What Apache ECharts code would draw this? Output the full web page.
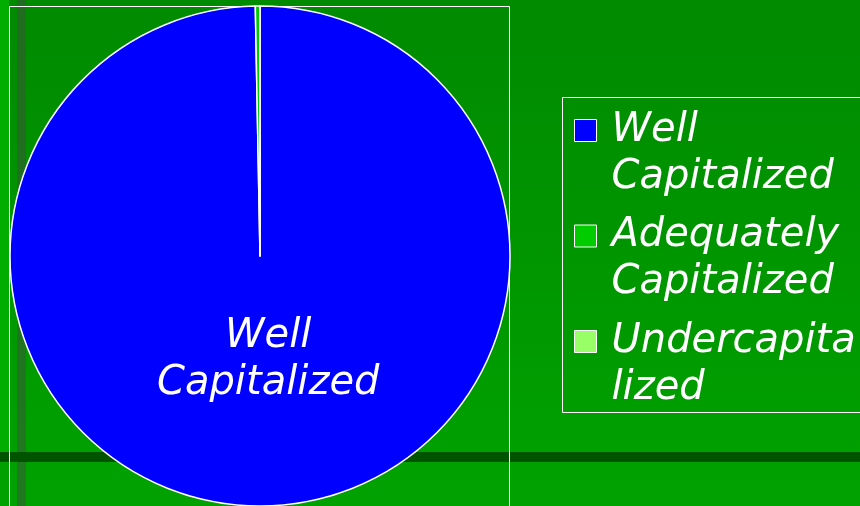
<!DOCTYPE html>
<html>
<head>
<meta charset="utf-8">
<script src="https://cdn.jsdelivr.net/npm/echarts@6/dist/echarts.min.js"></script>
<style>
  html, body { margin: 0; padding: 0; }
  #chart { width: 860px; height: 506px; }
</style>
</head>
<body>
<div id="chart"></div>
<script>
// capital categories and their share of institutions
const categories = ['Well Capitalized', 'Adequately Capitalized', 'Undercapitalized']
const legendText = ['\nWell\nCapitalized', '\nAdequately\nCapitalized', '\nUndercapita\nlized']
const shares = [99.7, 0.3, 0]
const colors = ['#0000ff', '#00cc00', '#99ff66']

const font = {
  color: '#fff',
  fontFamily: 'DejaVu Sans',
  fontStyle: 'italic',
  fontSize: 40,
  lineHeight: 47
}

const chart = echarts.init(document.getElementById('chart'))
chart.setOption({
  animation: false,
  backgroundColor: new echarts.graphic.LinearGradient(0, 0, 0, 1, [
    { offset: 0, color: '#008a00' },
    { offset: 1, color: '#00a200' }
  ]),
  graphic: [
    // lighter strip on the left edge
    { type: 'rect', shape: { x: 0, y: 0, width: 9, height: 452 }, style: { fill: '#00ad00' }, z: -10 },
    // dark bands
    { type: 'rect', shape: { x: 17, y: 0, width: 9, height: 506 }, style: { fill: 'rgba(70,70,70,0.45)' }, z: -9 },
    { type: 'rect', shape: { x: 0, y: 452, width: 860, height: 10 }, style: { fill: '#005400' }, z: -8 },
    // frame around the pie
    { type: 'rect', shape: { x: 9.5, y: 6.5, width: 500, height: 520 }, style: { fill: 'none', stroke: '#fff', lineWidth: 1 }, z: -5 },
    // frame around the legend
    { type: 'rect', shape: { x: 562.5, y: 97.5, width: 320, height: 315 }, style: { fill: 'none', stroke: '#fff', lineWidth: 1 }, z: -5 }
  ],
  legend: {
    orient: 'vertical',
    left: 574,
    top: 60,
    padding: 0,
    itemWidth: 22,
    itemHeight: 22,
    itemGap: -35.5,
    icon: 'rect',
    itemStyle: { borderColor: '#fff', borderWidth: 1 },
    data: categories,
    formatter: (name) => legendText[categories.indexOf(name)],
    textStyle: Object.assign({ padding: [0, 0, 0, 10] }, font)
  },
  series: [{
    type: 'pie',
    center: [260, 256],
    radius: 250,
    startAngle: 90,
    clockwise: true,
    silent: true,
    itemStyle: { borderColor: '#fff', borderWidth: 1.5 },
    label: Object.assign({
      show: true,
      position: 'inside',
      // trailing blank line lifts the two text lines above the slice midpoint
      formatter: 'Well\nCapitalized\n',
      padding: [0, 0, 0, 14]
    }, font),
    labelLine: { show: false },
    emphasis: { disabled: true },
    data: categories.map((name, i) => ({
      name: name,
      value: shares[i],
      itemStyle: { color: colors[i] },
      label: { show: i === 0 }
    }))
  }]
})
</script>
</body>
</html>
